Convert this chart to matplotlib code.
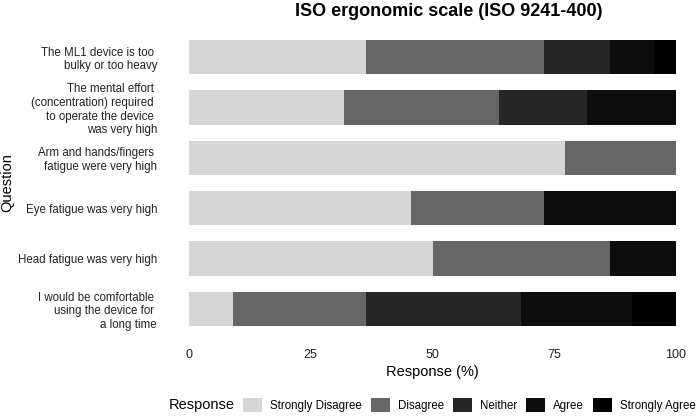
import numpy as np
import matplotlib
matplotlib.use("Agg")
import matplotlib.pyplot as plt
from matplotlib.patches import Patch

plt.rcParams['font.family'] = ['Liberation Sans', 'DejaVu Sans']

questions = [
    "The ML1 device is too \nbulky or too heavy",
    "The mental effort \n(concentration) required \nto operate the device \nwas very high",
    "Arm and hands/fingers \nfatigue were very high",
    "Eye fatigue was very high",
    "Head fatigue was very high",
    "I would be comfortable \nusing the device for \na long time",
]
responses = ["Strongly Disagree", "Disagree", "Neither", "Agree", "Strongly Agree"]
colors = ["#d6d6d6", "#666666", "#262626", "#0d0d0d", "#000000"]

# percent of 22 respondents
strongly_disagree = [36.4, 31.8, 77.3, 45.5, 50.0, 9.1]
disagree = [36.4, 31.8, 22.7, 27.3, 36.4, 27.3]
neither = [13.6, 18.2, 0.0, 0.0, 0.0, 31.8]
agree = [9.1, 18.2, 0.0, 27.3, 13.6, 22.7]
strongly_agree = [4.5, 0.0, 0.0, 0.0, 0.0, 9.1]

series = [strongly_disagree, disagree, neither, agree, strongly_agree]

fig = plt.figure(figsize=(6.96, 4.16), dpi=100)
ax = fig.add_axes([189 / 696, 1 - 339 / 416, 487 / 696, 312 / 416])

y = np.arange(len(questions))
left = np.zeros(len(questions))
for vals, col, name in zip(series, colors, responses):
    vals = np.array(vals)
    ax.barh(y, vals, left=left, height=0.68, color=col, label=name)
    left += vals

ax.set_ylim(len(questions) - 0.4, -0.6)
ax.set_xlim(0, 100)
ax.set_yticks(y)
ax.set_yticklabels(questions, fontsize=8.3, color='#222222', linespacing=1.17)
ax.set_xticks([0, 25, 50, 75, 100])
ax.tick_params(axis='x', labelsize=9, colors='#222222', length=0, pad=7)
ax.tick_params(axis='y', length=0, pad=23)
for s in ax.spines.values():
    s.set_visible(False)

ax.set_xlabel("Response (%)", fontsize=10.5, labelpad=3)
ax.set_ylabel("Question", fontsize=10.5)
ax.yaxis.set_label_coords((14 - 189) / 487, 0.5)
fig.text(449 / 696, 1 - 12 / 416, "ISO ergonomic scale (ISO 9241-400)",
         ha='center', va='center', fontsize=13, fontweight='bold')

fig.text(169 / 696, 1 - 405 / 416, "Response", ha='left', va='center', fontsize=10.5)
handles = [Patch(facecolor=c, label=r) for c, r in zip(colors, responses)]
fig.legend(handles=handles, loc='center left', bbox_to_anchor=(243 / 696, 1 - 405 / 416),
           ncol=5, frameon=False, fontsize=8.3, handlelength=1.65, handleheight=1.6,
           columnspacing=0.78, handletextpad=0.7, borderaxespad=0, borderpad=0)

fig.savefig("out.png", dpi=100)
